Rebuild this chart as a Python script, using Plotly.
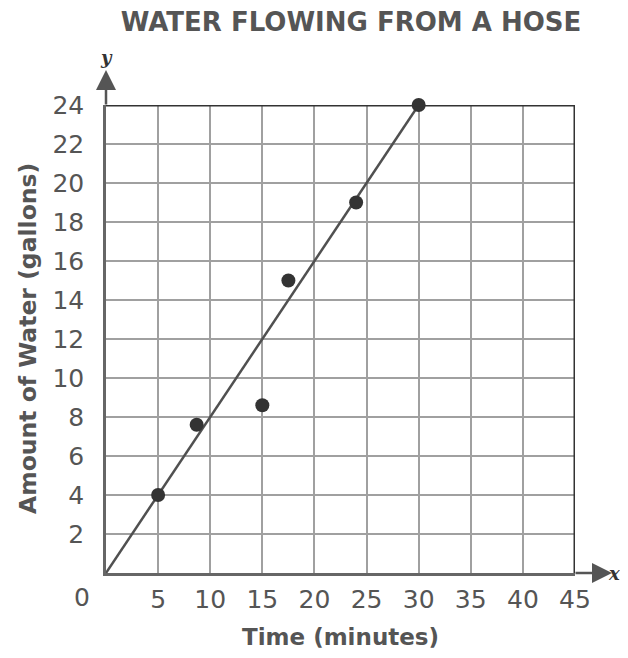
import plotly.graph_objects as go

# Data
time_min = [5, 8.7, 15, 17.5, 24, 30]
water_gal = [4, 7.6, 8.6, 15, 19, 24]
fit_x = [0, 30]
fit_y = [0, 24]
x_ticks = [5, 10, 15, 20, 25, 30, 35, 40, 45]
y_ticks = [2, 4, 6, 8, 10, 12, 14, 16, 18, 20, 22, 24]

TXT = "#555555"
FONT = "DejaVu Sans"

fig = go.Figure()
fig.add_trace(go.Scatter(x=fit_x, y=fit_y, mode="lines",
                         line=dict(color="#505050", width=2.5),
                         showlegend=False, hoverinfo="skip", cliponaxis=False))
fig.add_trace(go.Scatter(x=time_min, y=water_gal, mode="markers",
                         marker=dict(color="#333333", size=14),
                         showlegend=False, cliponaxis=False))

fig.update_layout(
    width=628, height=658,
    margin=dict(l=98, r=61, t=97, b=93),
    paper_bgcolor="white", plot_bgcolor="white",
    font=dict(family=FONT, color=TXT),
    title=dict(text="<b>WATER FLOWING FROM A HOSE</b>",
               font=dict(family=FONT, size=26, color=TXT),
               x=(351 - 106)/469, xanchor="center", xref="paper",
               y=1 - 14/658, yanchor="middle", yref="container"),
    xaxis=dict(range=[0, 45], tickvals=x_ticks, showgrid=True,
               gridcolor="#a0a0a0", gridwidth=1.5,
               showline=True, linecolor="#666666", linewidth=2.5,
               zeroline=False, ticks="", ticklabelstandoff=2,
               tickfont=dict(family=FONT, size=25, color=TXT)),
    yaxis=dict(range=[0, 24], tickvals=y_ticks, showgrid=True,
               gridcolor="#a0a0a0", gridwidth=1.5,
               showline=True, linecolor="#666666", linewidth=2.5,
               zeroline=False, ticks="", ticklabelstandoff=14,
               tickfont=dict(family=FONT, size=25, color=TXT)),
)

# top and right borders
fig.add_shape(type="line", xref="x", yref="y", x0=0, x1=45, y0=24, y1=24,
              line=dict(color="#333333", width=3))
fig.add_shape(type="line", xref="x", yref="y", x0=45, x1=45, y0=0, y1=24,
              line=dict(color="#333333", width=3))

# axis arrows
fig.add_annotation(x=0, y=1 + 35/468, xref="x", yref="paper",
                   ax=0, ay=36, axref="pixel", ayref="pixel",
                   showarrow=True, arrowhead=2, arrowsize=1.6, arrowwidth=2.5,
                   arrowcolor="#555555", text="")
fig.add_annotation(x=1 + 37/469, y=0, xref="paper", yref="y",
                   ax=-38, ay=0, showarrow=True, arrowhead=2, arrowsize=1.6,
                   arrowwidth=2.5, arrowcolor="#555555", text="")

# axis letters
fig.add_annotation(x=0, y=1 + 47/468, xref="x", yref="paper",
                   text="<b><i>y</i></b>", showarrow=False, yanchor="middle",
                   font=dict(family="DejaVu Serif", size=18, color="#333333"))
fig.add_annotation(x=1 + 47/469, y=0, xref="paper", yref="y",
                   text="<b><i>x</i></b>", showarrow=False,
                   font=dict(family="DejaVu Serif", size=18, color="#333333"))

# origin label
fig.add_annotation(x=(82 - 106)/469, y=-24/468, xref="paper", yref="paper",
                   text="0", showarrow=False, xanchor="center", yanchor="middle",
                   font=dict(family=FONT, size=25, color=TXT))

# axis titles
fig.add_annotation(x=0.5, y=-64/468, xref="paper", yref="paper",
                   text="<b>Time (minutes)</b>", showarrow=False,
                   yanchor="middle", font=dict(family=FONT, size=23, color=TXT))
fig.add_annotation(x=(28 - 106)/469, y=0.5, xref="paper", yref="paper",
                   text="<b>Amount of Water (gallons)</b>", showarrow=False,
                   textangle=-90, xanchor="center", yanchor="middle",
                   font=dict(family=FONT, size=23.5, color=TXT))

fig.write_html("out.html")
